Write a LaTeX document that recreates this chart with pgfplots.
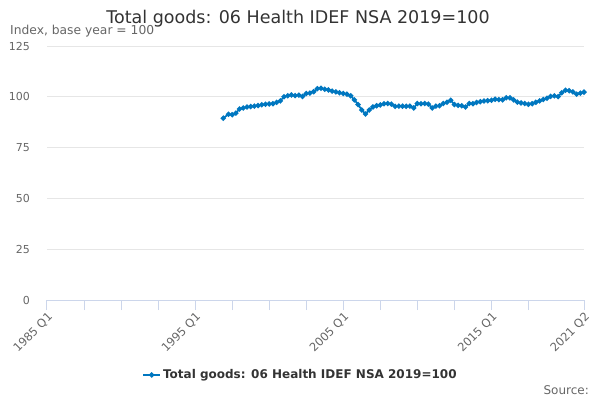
\documentclass[border=0pt]{standalone}
\usepackage{fontspec}
\setmainfont{DejaVu Sans}
\usepackage{pgfplots}
\pgfplotsset{compat=1.18}
\definecolor{series}{HTML}{0077C0}
\definecolor{gridc}{HTML}{E6E6E6}
\definecolor{axisc}{HTML}{CCD6EB}
\definecolor{labc}{HTML}{666666}
\definecolor{titc}{HTML}{333333}
\begin{document}
\begin{tikzpicture}
\path[use as bounding box] (0pt,0pt) rectangle (600pt,400pt);
\node[font=\fontsize{17.5}{20}\selectfont, text=titc, anchor=base] at (298pt,376pt) {Total goods: 06 Health IDEF NSA 2019=100};
\node[font=\fontsize{12.3}{14}\selectfont, text=labc, anchor=base west, inner sep=0pt] at (10pt,365pt) {Index, base year = 100};
\node[font=\fontsize{12}{14}\selectfont, text=labc, anchor=base east, inner sep=0pt] at (589pt,6pt) {Source:};
\begin{axis}[
  at={(47pt,100pt)}, anchor=south west, scale only axis,
  width=537pt, height=254pt,
  xmin=0, xmax=145, ymin=0, ymax=125,
  ytick={0,25,50,75,100,125},
  xtick={0,40,80,120,145},
  xticklabels={1985 Q1,1995 Q1,2005 Q1,2015 Q1,2021 Q2},
  minor xtick={10,20,30,50,60,70,90,100,110,130},
  axis lines*=left,
  x axis line style={axisc, line width=1pt},
  y axis line style={draw=none},
  ymajorgrids, grid style={gridc, line width=0.8pt},
  xtick style={axisc, line width=1pt},
  minor x tick style={axisc, line width=1pt},
  ytick style={draw=none},
  tick align=outside,
  major tick length=10pt, minor tick length=10pt,
  xticklabel style={rotate=45, anchor=north east, font=\fontsize{11.5}{13}\selectfont, text=labc, inner sep=1pt},
  yticklabel style={font=\fontsize{11}{13}\selectfont, text=labc, anchor=east, inner sep=0pt, xshift=-7pt},
  /pgf/number format/assume math mode=true,
  clip=false,
  legend style={at={(0.472,-0.295)}, anchor=center, draw=none, fill=none,
    font=\bfseries\fontsize{12}{14}\selectfont, text=titc},
  legend cell align=left,
]
\addplot[series, line width=1.7pt, mark=*, mark size=1.7pt, mark options={solid}] coordinates {
(47.6,89.5) (49,91.4) (50,91.2) (51,92.0) (52,94.0) (53,94.5) (54,95.0) (55,95.2)
(56,95.4) (57,95.7) (58,96.1) (59,96.3) (60,96.5) (61,96.6) (62,97.3) (63,98.0)
(64,100.0) (65,100.5) (66,100.9) (67,100.6) (68,100.8) (69,100.2) (70,101.6) (71,101.8)
(72,102.5) (73,104.0) (74,104.2) (75,103.7) (76,103.4) (77,102.8) (78,102.4) (79,102.0)
(80,101.6) (81,101.3) (82,100.5) (83,98.5) (84,96.2) (85,93.5) (86,91.5) (87,93.5)
(88,95.0) (89,95.6) (90,96.0) (91,96.6) (92,96.7) (93,96.4) (94,95.3) (95,95.4)
(96,95.4) (97,95.3) (98,95.4) (99,94.5) (100,96.7) (101,96.6) (102,96.7) (103,96.4)
(104,94.5) (105,95.4) (106,95.6) (107,96.7) (108,97.3) (109,98.3) (110,96.2) (111,95.8)
(112,95.6) (113,95.0) (114,96.7) (115,96.6) (116,97.2) (117,97.6) (118,97.9) (119,98.1)
(120,98.3) (121,98.8) (122,98.6) (123,98.5) (124,99.5) (125,99.5) (126,98.5) (127,97.4)
(128,97.0) (129,96.7) (130,96.3) (131,96.6) (132,97.3) (133,98.0) (134,98.7) (135,99.3)
(136,100.2) (137,100.5) (138,100.1) (139,102.0) (140,103.2) (141,103.0) (142,102.4) (143,101.3)
(144,101.8) (145,102.3)
};
\addlegendentry{Total goods: 06 Health IDEF NSA 2019=100}
\end{axis}
\end{tikzpicture}
\end{document}
